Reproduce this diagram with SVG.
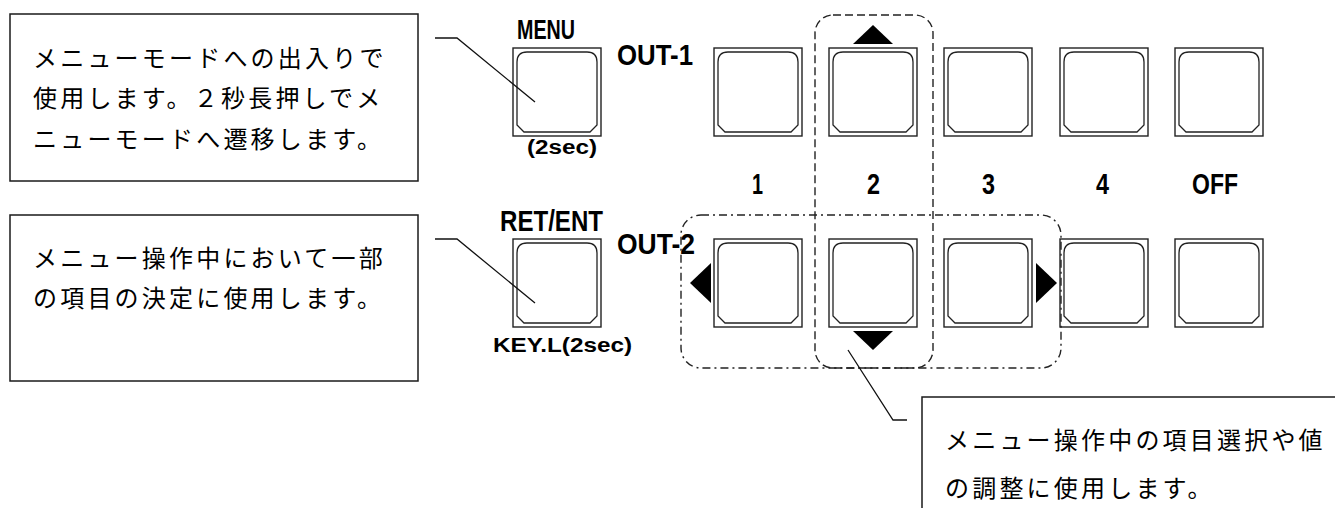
<svg xmlns="http://www.w3.org/2000/svg" xmlns:xlink="http://www.w3.org/1999/xlink" width="1335" height="508" viewBox="0 0 1335 508">
<style>
.box{fill:#fff;stroke:#1a1a1a;stroke-width:1.5}
.jp{font-family:"Noto Sans CJK JP","Noto Sans CJK SC",sans-serif;font-size:24px;letter-spacing:3.2px;fill:#000}
.lbl{font-family:"Liberation Sans",Arial,sans-serif;font-weight:bold;fill:#000}
.outer{fill:none;stroke:#222;stroke-width:1.4}
.inner{fill:none;stroke:#222;stroke-width:1.3}
.conn{fill:none;stroke:#111;stroke-width:1.3}
.dash{fill:none;stroke:#222;stroke-width:1.4;stroke-dasharray:8 4}
.dashdot{fill:none;stroke:#222;stroke-width:1.4;stroke-dasharray:8 4 2 4}
.tri{fill:#000}
</style>
<defs>
<g id="btn">
<rect class="outer" x="0" y="0" width="88" height="88"/>
<path class="inner" d="M4,14 Q4,4 14,4 H74 Q84,4 84,14 V77 L77,84 H11 L4,77 Z"/>
</g>
</defs>

<g id="desc-menu">
<rect class="box" x="10" y="14" width="408" height="167"/>
<text class="jp" x="33" y="67">メニューモードへの出入りで</text>
<text class="jp" x="33" y="107">使用します。２秒長押しでメ</text>
<text class="jp" x="33" y="148">ニューモードへ遷移します。</text>
</g>

<g id="desc-retent">
<rect class="box" x="10" y="215" width="408" height="166"/>
<text class="jp" x="33" y="267">メニュー操作中において一部</text>
<text class="jp" x="33" y="307">の項目の決定に使用します。</text>
</g>

<g id="desc-arrows">
<rect class="box" x="922" y="397" width="500" height="200"/>
<text class="jp" x="945" y="449">メニュー操作中の項目選択や値</text>
<text class="jp" x="945" y="497">の調整に使用します。</text>
</g>

<g id="btn-menu">
<use xlink:href="#btn" x="513" y="48"/>
<text class="lbl" x="517" y="39" font-size="27" textLength="58" lengthAdjust="spacingAndGlyphs">MENU</text>
<text class="lbl" x="527" y="154" font-size="20" textLength="70" lengthAdjust="spacingAndGlyphs">(2sec)</text>
</g>

<g id="btn-retent">
<use xlink:href="#btn" x="513" y="239"/>
<text class="lbl" x="500" y="231" font-size="29" textLength="103" lengthAdjust="spacingAndGlyphs">RET/ENT</text>
<text class="lbl" x="493" y="352" font-size="21" textLength="139" lengthAdjust="spacingAndGlyphs">KEY.L(2sec)</text>
</g>

<g id="label-out1">
<text class="lbl" x="617" y="65" font-size="30" textLength="76" lengthAdjust="spacingAndGlyphs">OUT-1</text>
</g>
<g id="label-out2">
<text class="lbl" x="617" y="254" font-size="30" textLength="78" lengthAdjust="spacingAndGlyphs">OUT-2</text>
</g>

<g id="out1-buttons">
<use xlink:href="#btn" x="714" y="48"/>
<use xlink:href="#btn" x="829" y="48"/>
<use xlink:href="#btn" x="944" y="48"/>
<use xlink:href="#btn" x="1060" y="48"/>
<use xlink:href="#btn" x="1175" y="48"/>
</g>

<g id="channel-labels">
<text class="lbl" x="752" y="194" font-size="29" textLength="11" lengthAdjust="spacingAndGlyphs">1</text>
<text class="lbl" x="867" y="194" font-size="29" textLength="13" lengthAdjust="spacingAndGlyphs">2</text>
<text class="lbl" x="982" y="194" font-size="29" textLength="13" lengthAdjust="spacingAndGlyphs">3</text>
<text class="lbl" x="1096" y="194" font-size="29" textLength="13" lengthAdjust="spacingAndGlyphs">4</text>
<text class="lbl" x="1192" y="194" font-size="29" textLength="46" lengthAdjust="spacingAndGlyphs">OFF</text>
</g>

<g id="out2-buttons">
<use xlink:href="#btn" x="714" y="239"/>
<use xlink:href="#btn" x="829" y="239"/>
<use xlink:href="#btn" x="944" y="239"/>
<use xlink:href="#btn" x="1060" y="239"/>
<use xlink:href="#btn" x="1175" y="239"/>
</g>

<g id="arrow-keys">
<polygon class="tri" points="853,44 893,44 873,25"/>
<polygon class="tri" points="853,331 893,331 873,350"/>
<polygon class="tri" points="711,263 711,303 690,283"/>
<polygon class="tri" points="1036,263 1036,303 1057,283"/>
</g>

<g id="groupings">
<rect class="dash" x="815" y="15" width="118" height="353" rx="18"/>
<rect class="dashdot" x="681" y="215" width="380" height="153" rx="20"/>
</g>

<g id="connectors">
<polyline class="conn" points="435,38 457,38 535,102"/>
<polyline class="conn" points="435,239 457,239 535,303"/>
<polyline class="conn" points="848,350 893,420 907,420"/>
</g>
</svg>
